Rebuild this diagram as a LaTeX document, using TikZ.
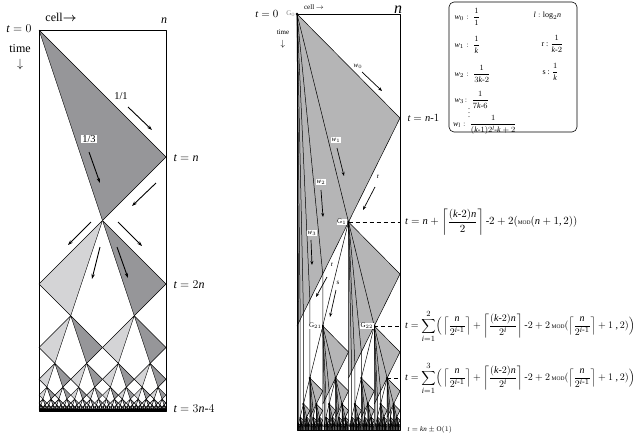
\documentclass[tikz,border=0pt]{standalone}
\usepackage{amsmath}
\usepackage{fontspec}
\setmainfont{Liberation Serif}
\usepackage[italic]{mathastext}
\usetikzlibrary{arrows.meta}
\definecolor{lgray}{RGB}{212,212,214}
\definecolor{dgray}{RGB}{150,150,153}
\definecolor{rgray}{RGB}{181,181,182}
\newcommand{\hy}{\text{-}}
\newcommand{\modop}{\text{\fontsize{5.5}{6}\selectfont MOD}}

\begin{document}
\begin{tikzpicture}[x=1pt, y=-1pt, >={Stealth[length=5pt,width=3.5pt]}, line join=round,
    tri/.style={draw=black, line width=0.45pt},
    rline/.style={line width=0.5pt},
    sig/.style={->, line width=0.9pt},
    rsig/.style={->, line width=0.7pt, >={Stealth[length=4pt,width=3pt]}},
    big/.style={font=\fontsize{12}{14}\selectfont},
    mid/.style={font=\fontsize{10.5}{12}\selectfont},
    small/.style={font=\fontsize{7}{8}\selectfont},
    tag/.style={fill=white, inner sep=0.6pt, font=\fontsize{7}{8}\selectfont},
    eq/.style={anchor=west, inner sep=0pt, font=\fontsize{10}{11}\selectfont}]
\useasboundingbox (0,0) rectangle (641,439);

%% left: signals 1/1 and 1/3
\begin{scope}[xshift=39pt, yshift=-30pt, x=127pt, y=-127pt]
  \filldraw[dgray, tri] (0,0) -- (1,1) -- (0.5,1.5) -- cycle;
  \foreach \m in {1,...,7}{
    \pgfmathsetmacro\hw{1/2^\m}
    \pgfmathsetmacro\tz{3-3*\hw}
    \pgfmathtruncatemacro\J{2^(\m-1)-1}
    \foreach \j in {0,...,\J}{
      \pgfmathsetmacro\px{(2*\j+1)*\hw}
      \filldraw[lgray, tri] (\px,\tz) -- ++(-\hw,\hw) -- ++(\hw/2,\hw/2) -- cycle;
      \filldraw[dgray, tri] (\px,\tz) -- ++(\hw,\hw) -- ++(-\hw/2,\hw/2) -- cycle;
    }
  }
  \fill (0,2.986) rectangle (1,3);
  \draw[line width=0.8pt] (0,0) rectangle (1,3);
\end{scope}

\node[big, anchor=east] (lt0) at (35,29) {$t=0$};
\node[big] (lcell) at (61,17) {cell$\boldsymbol{\rightarrow}$};
\node[big] (ln) at (164,21) {$n$};
\node[big] (ltime) at (20,49) {time};
\node[big] (ldown) at (20,64) {$\downarrow$};
\node[mid] (l11) at (121,96) {1/1};
\node[mid, fill=white, inner sep=0.8pt] (l13) at (89,139) {1/3};
\node[big, anchor=west] (ltn) at (170,158) {$t=n$};
\node[big, anchor=west] (lt2n) at (170,285) {$t=2n$};
\node[big, anchor=west] (lt3n) at (170,409) {$t=3n\hy4$};
\foreach \a/\b in {{(128,107)}/{(152,130)}, {(89,152)}/{(100,183)}, {(156,183)}/{(132,206)},
    {(91,222)}/{(68,245)}, {(118,222)}/{(142,246)}, {(100,247)}/{(92,279)}, {(117,247)}/{(128,278)}}
  \draw[sig] \a -- \b;

%% right: w signals, r and s
\begin{scope}[xshift=297pt, yshift=-14pt, x=103pt, y=-104pt]
  \def\tend{4}
  \foreach \m in {0,...,6}{
    \pgfmathsetmacro\hw{1/2^\m}
    \pgfmathsetmacro\tz{4-4*\hw}
    \pgfmathtruncatemacro\J{max(2^(\m-1)-1,0)}
    \foreach \j in {0,...,\J}{
      \pgfmathsetmacro\px{\m==0 ? 0 : (2*\j+1)*\hw}
      \fill[rgray] (\px,\tz) -- ++(\hw,\hw) -- ++(-\hw/2,\hw) -- ++(-\hw/2,\hw) -- cycle;
    }
  }
  \foreach \m in {0,...,6}{
    \pgfmathsetmacro\hw{1/2^\m}
    \pgfmathsetmacro\tz{4-4*\hw}
    \pgfmathtruncatemacro\J{max(2^(\m-1)-1,0)}
    \pgfmathtruncatemacro\I{\m==0 ? 6 : 4}
    \foreach \j in {0,...,\J}{
      \pgfmathsetmacro\px{\m==0 ? 0 : (2*\j+1)*\hw}
      \draw[rline] (\px,\tz) -- ++(\hw,\hw) -- ++(-\hw,2*\hw);
      \foreach \i in {1,...,\I}
        \draw[rline] (\px,\tz) -- ({\px+\hw/2^\i},{\tz+3*\hw-\hw/2^(\i-1)}) -- ({\px+\hw/2^\i},\tend);
      \ifnum\m>0 \draw[rline] (\px,\tz) -- ++(-\hw/2,2*\hw); \fi
      \ifnum\m<5 \fill (\px,\tz) circle[radius=1.3pt]; \fi
    }
  }
  \draw[line width=0.7pt] (0,0) rectangle (1,\tend);
  \coordinate (G0) at (0,0);
  \coordinate (G1) at (0.5,2);
  \coordinate (G21) at (0.25,3);
  \coordinate (G22) at (0.75,3);
  \coordinate (G34) at (0.875,3.5);
  \foreach \g/\e/\t in {G1/E1/2, G22/E2/3, G34/E3/3.5}{
    \coordinate (\e) at (1,\t);
    \draw[rline, dash pattern=on 4pt off 3pt] (\g) -- (\e);
  }
\end{scope}

\node[tag, anchor=east] (g1) at ([xshift=-1.5pt]G1) {G$_1$};
\node[tag, anchor=east] (g21) at ([xshift=-0.5pt]G21) {G$_{21}$};
\node[tag, anchor=east] (g22) at ([xshift=-0.5pt]G22) {G$_{22}$};
\node[small, text=gray, anchor=east, inner sep=0.5pt] (g0) at ([xshift=-1pt]G0) {G$_0$};

\node[mid, anchor=east] (rt0) at (282,14) {$t=0$};
\node[small] (rcell) at (314,7) {cell $\rightarrow$};
\node[font=\fontsize{16}{18}\selectfont, anchor=base, inner sep=0pt] (rn) at (398,13) {$n$};
\node[small] (rtime) at (283,32) {time};
\node[font=\fontsize{9}{10}\selectfont] (rdown) at (283,44) {$\downarrow$};

\node[small] (lw0) at (358,66) {$w_0$};
\node[tag] (lw1) at (336,140) {$w_1$};
\node[tag] (lw2) at (321,182) {$w_2$};
\node[tag] (lw3) at (312,233) {$w_3$};
\node[tag] (lr1) at (378,177) {r};
\node[tag] (lr2) at (332,265) {r};
\node[tag] (ls) at (338,283) {s};
\foreach \a/\b in {{(362,72)}/{(382,91)}, {(337,148)}/{(344,176)}, {(321,190)}/{(323,217)},
    {(311,240)}/{(312,265)}, {(375,187)}/{(363,210)}, {(327,277)}/{(316,297)}, {(336,290)}/{(330,317)}}
  \draw[rsig] \a -- \b;

\node[mid, anchor=west] (tn1) at (404,118) {$t=n\hy1$};
\node[eq, font=\fontsize{10.5}{12}\selectfont] (f1) at (405,222) {$t=n+\left\lceil\dfrac{(k\hy2)n}{2}\right\rceil\hy2+2(\modop(n+1,2))$};
\node[eq] (f2) at (405,326) {$t=\displaystyle\sum_{i=1}^{2}\Bigl(\,\left\lceil\dfrac{n}{2^{i\hy1}}\right\rceil+\left\lceil\dfrac{(k\hy2)n}{2^{i}}\right\rceil\hy2+2\,\modop(\left\lceil\dfrac{n}{2^{i\hy1}}\right\rceil+1\ ,2)\Bigr)$};
\node[eq] (f3) at (405,378) {$t=\displaystyle\sum_{i=1}^{3}\Bigl(\,\left\lceil\dfrac{n}{2^{i\hy1}}\right\rceil+\left\lceil\dfrac{(k\hy2)n}{2^{i}}\right\rceil\hy2+2\,\modop(\left\lceil\dfrac{n}{2^{i\hy1}}\right\rceil+1\ ,2)\Bigr)$};
\node[small, anchor=west] (fk) at (404,430) {$t=kn\pm\mathrm{O}(1)$};

%% legend box
\draw[line width=0.6pt, rounded corners=5pt] (449,2) rectangle (577,132);
\begin{scope}[every node/.style={anchor=west, font=\fontsize{8}{9}\selectfont}]
  \node (k0) at (451,17) {$w_0:\ \dfrac{1}{1}$};
  \node (k1) at (451,45) {$w_1:\ \dfrac{1}{k}$};
  \node (k2) at (451,74) {$w_2:\ \dfrac{1}{3k\hy2}$};
  \node (k3) at (451,100) {$w_3\!:\ \dfrac{1}{7k\hy6}$};
  \node[inner sep=0pt] (kd) at (468,110) {$\vdots$};
  \node[inner sep=0pt] (kl) at (453,125) {$w_l:\ \dfrac{1}{(k\hy1)2^l\hy k+2}$};
  \node (kL) at (530,16) {$l:\log_2\! n$};
  \node (kr) at (538,44) {r :\ $\dfrac{1}{k\hy2}$};
  \node (ks) at (539,72) {s :\ $\dfrac{1}{k}$};
\end{scope}
\end{tikzpicture}
\end{document}
